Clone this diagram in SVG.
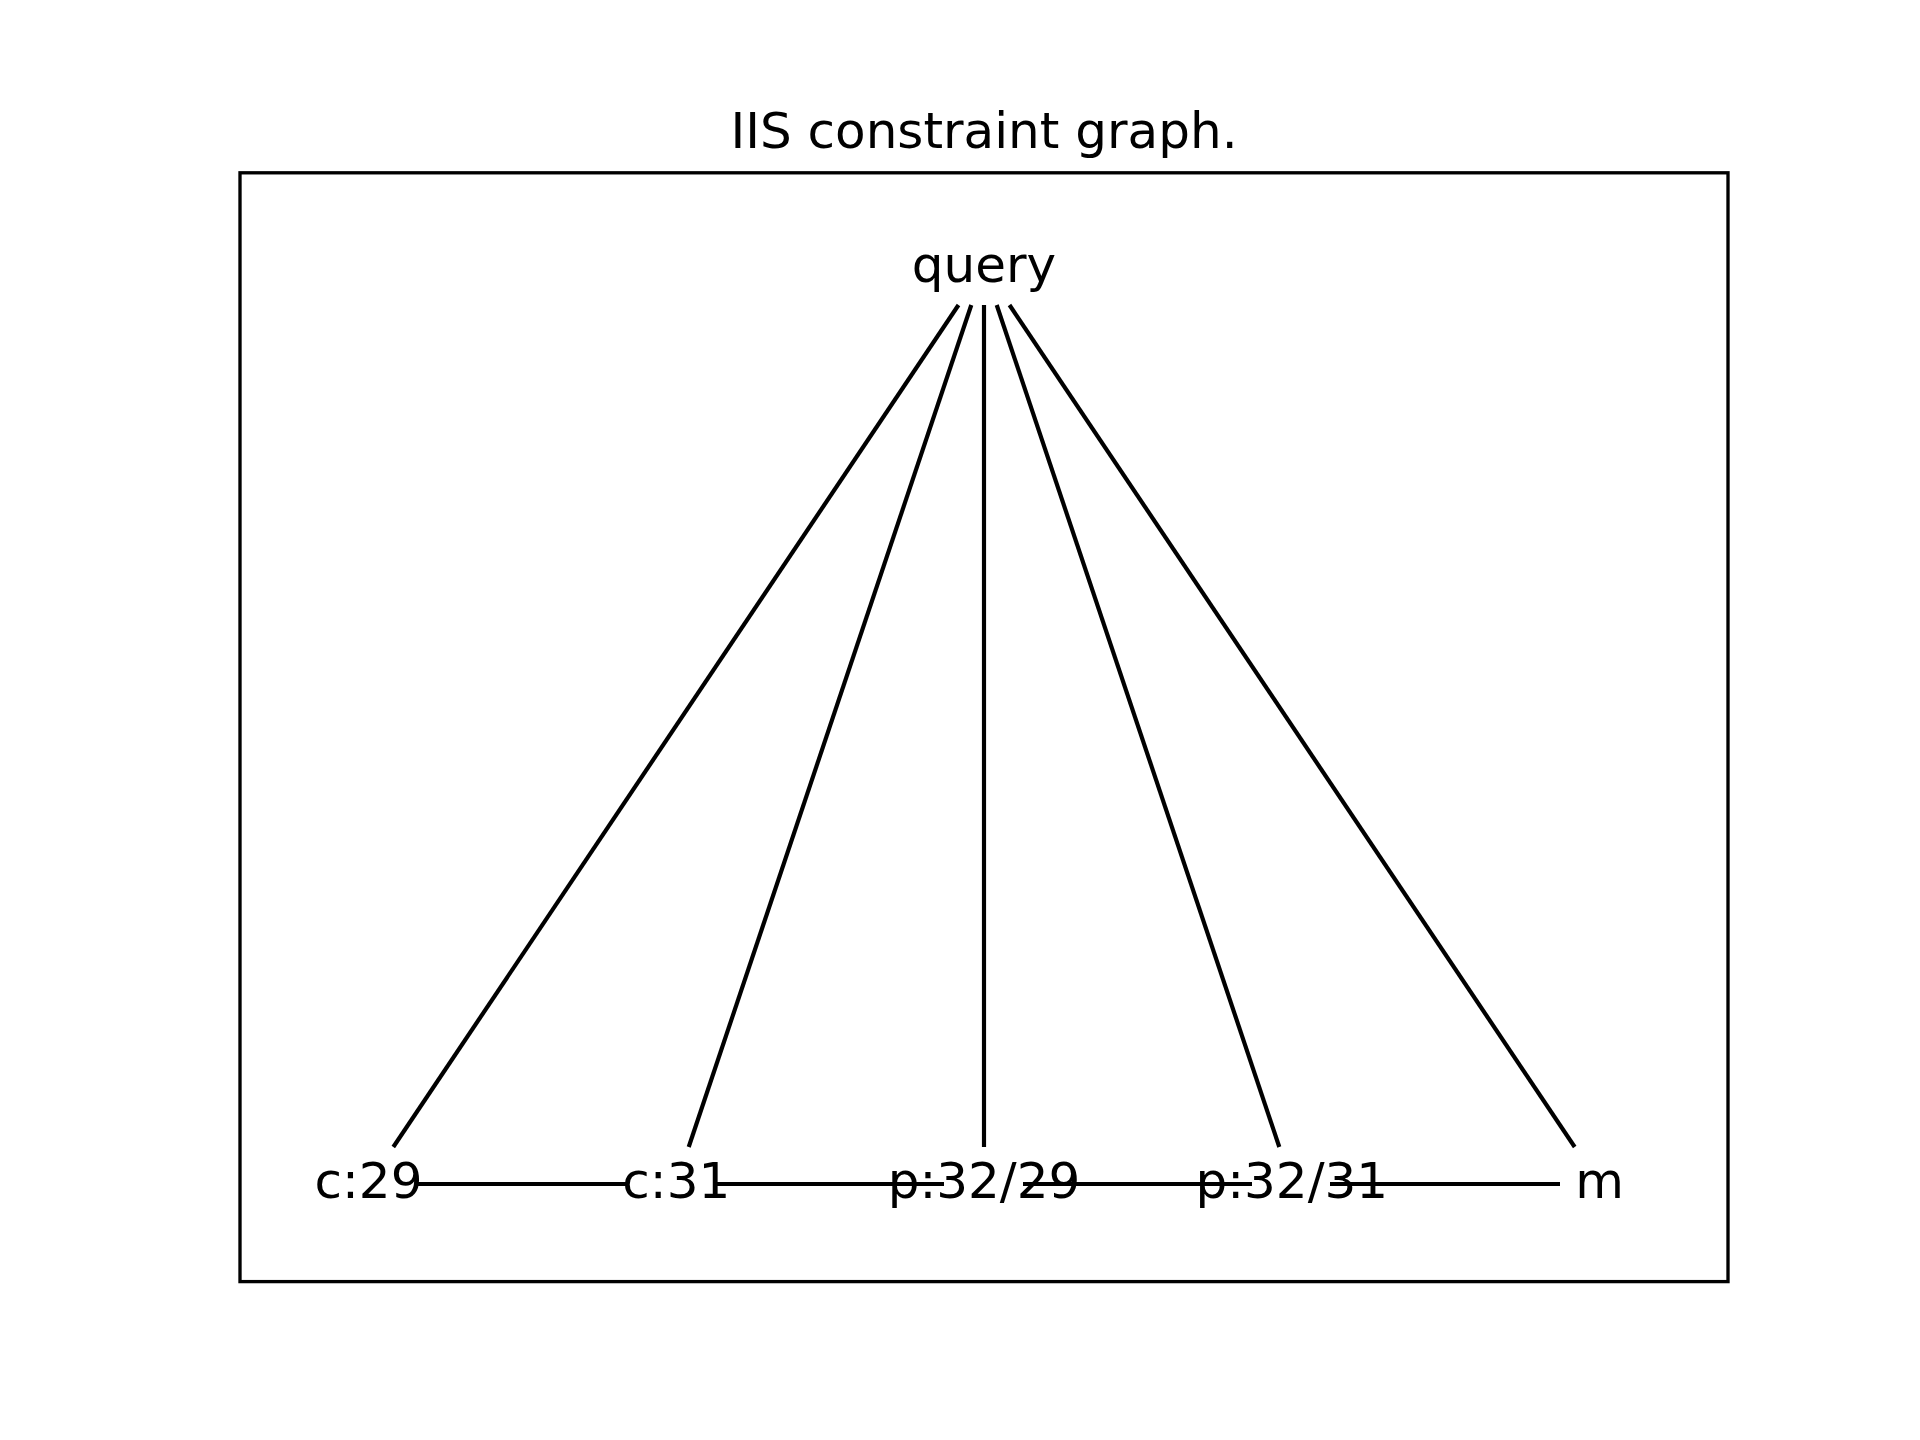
<svg xmlns="http://www.w3.org/2000/svg" width="1920" height="1440" viewBox="0 0 1920 1440">
  <style>
    .edge { stroke: #000; stroke-width: 4.17; stroke-linecap: butt; fill: none; }
    .frame { stroke: #000; stroke-width: 3.33; fill: none; stroke-linejoin: miter; }
    .label { font-family: "DejaVu Sans", sans-serif; font-size: 50px; fill: #000; text-anchor: middle; }
  </style>
  <rect width="1920" height="1440" fill="#fff"/>

  <!-- plot frame -->
  <rect class="frame" x="240" y="172.8" width="1488" height="1108.8"/>

  <!-- title -->
  <text class="label" x="984" y="148">IIS constraint graph.</text>

  <!-- edges -->
  <g id="edges">
    <line class="edge" x1="958.5" y1="305" x2="393.3" y2="1147"/>
    <line class="edge" x1="971.3" y1="305" x2="688.7" y2="1147"/>
    <line class="edge" x1="984" y1="305" x2="984" y2="1147"/>
    <line class="edge" x1="996.7" y1="305" x2="1279.3" y2="1147"/>
    <line class="edge" x1="1009.5" y1="305" x2="1574.7" y2="1147"/>
    <line class="edge" x1="418" y1="1184" x2="627" y2="1184"/>
    <line class="edge" x1="715" y1="1184" x2="944" y2="1184"/>
    <line class="edge" x1="1023" y1="1184" x2="1252" y2="1184"/>
    <line class="edge" x1="1330" y1="1184" x2="1560" y2="1184"/>
  </g>

  <!-- nodes -->
  <g id="node-query"><text class="label" x="984" y="282">query</text></g>
  <g id="node-c29"><text class="label" x="368.5" y="1198">c:29</text></g>
  <g id="node-c31"><text class="label" x="676.3" y="1198">c:31</text></g>
  <g id="node-p3229"><text class="label" x="984" y="1198">p:32/29</text></g>
  <g id="node-p3231"><text class="label" x="1291.8" y="1198">p:32/31</text></g>
  <g id="node-m"><text class="label" x="1599.5" y="1198">m</text></g>
</svg>
